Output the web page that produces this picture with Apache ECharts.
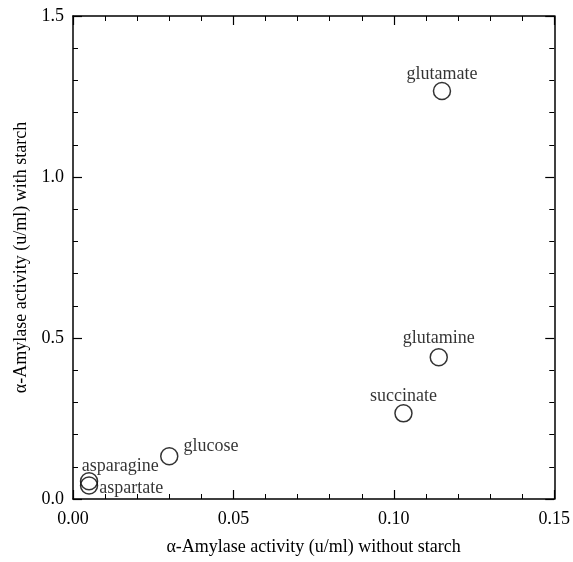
<!DOCTYPE html>
<html>
<head>
<meta charset="utf-8">
<script src="https://cdn.jsdelivr.net/npm/echarts@6/dist/echarts.min.js"></script>
<style>
  html, body { margin: 0; padding: 0; background: #fff; }
  #chart { width: 573px; height: 562px; }
</style>
</head>
<body>
<div id="chart"></div>
<script>
const names = ["glutamate", "glutamine", "succinate", "glucose", "asparagine", "aspartate"]
const withoutStarch = [0.115, 0.114, 0.103, 0.030, 0.005, 0.005]
const withStarch = [1.267, 0.44, 0.266, 0.133, 0.055, 0.042]

const xTicks = [0, 0.05, 0.1, 0.15]
const yTicks = [0, 0.5, 1.0, 1.5]

// where each label sits relative to its circle
const labelPlace = {
  glutamate: { position: "top", distance: -1 },
  glutamine: { position: "top", distance: 1 },
  succinate: { position: "top", distance: -1 },
  glucose: { position: "right", distance: 5, offset: [0, -10] },
  asparagine: { position: "insideLeft", offset: [-3, -15] },
  aspartate: { position: "right", distance: 1, offset: [0, 3] },
}

const font = "Liberation Serif, Times New Roman, serif"
const ink = "#000"

function axisBase(showLabel, fmt) {
  return {
    type: "value",
    axisLine: { show: true, onZero: false, lineStyle: { color: ink, width: 1.5 } },
    axisTick: { show: true, inside: true, length: 9, lineStyle: { color: ink, width: 1.2 } },
    minorTick: { show: true, splitNumber: 5, length: 5, lineStyle: { color: ink, width: 1 } },
    splitLine: { show: false },
    minorSplitLine: { show: false },
    axisLabel: {
      show: showLabel,
      color: ink,
      fontFamily: font,
      fontSize: 18,
      formatter: fmt,
    },
  }
}

const xFmt = v => v.toFixed(2)
const yFmt = v => v.toFixed(1)

const points = names.map((n, i) => {
  const p = labelPlace[n]
  return {
    name: n,
    value: [withoutStarch[i], withStarch[i]],
    label: {
      show: true,
      formatter: n,
      position: p.position,
      distance: p.distance ?? 5,
      offset: p.offset ?? [0, 0],
      color: ink,
      fontFamily: font,
      fontSize: 18,
    },
  }
})

const chart = echarts.init(document.getElementById("chart"))

chart.setOption({
  animation: false,
  backgroundColor: "#fff",
  grid: { left: 73, right: 18, top: 16, bottom: 63 },
  xAxis: [
    {
      ...axisBase(true, xFmt),
      position: "bottom",
      min: 0, max: 0.15, interval: 0.05,
      axisLabel: { ...axisBase(true, xFmt).axisLabel, margin: 11 },
      name: "α-Amylase activity (u/ml) without starch",
      nameLocation: "middle",
      nameGap: 39,
      nameTextStyle: { color: ink, fontFamily: font, fontSize: 18 },
    },
    {
      ...axisBase(false, xFmt),
      position: "top",
      min: 0, max: 0.15, interval: 0.05,
    },
  ],
  yAxis: [
    {
      ...axisBase(true, yFmt),
      position: "left",
      min: 0, max: 1.5, interval: 0.5,
      axisLabel: { ...axisBase(true, yFmt).axisLabel, margin: 9 },
      name: "α-Amylase activity (u/ml) with starch",
      nameLocation: "middle",
      nameGap: 40,
      nameTextStyle: { color: ink, fontFamily: font, fontSize: 18 },
    },
    {
      ...axisBase(false, yFmt),
      position: "right",
      min: 0, max: 1.5, interval: 0.5,
    },
  ],
  series: [
    {
      type: "scatter",
      xAxisIndex: 0,
      yAxisIndex: 0,
      symbol: "circle",
      symbolSize: 17,
      itemStyle: { color: "rgba(255,255,255,0)", borderColor: ink, borderWidth: 1.5 },
      data: points,
    },
  ],
})
</script>
</body>
</html>
